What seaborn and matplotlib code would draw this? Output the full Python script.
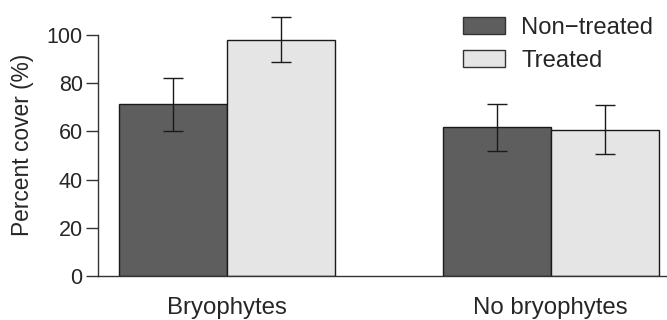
import matplotlib
matplotlib.use("Agg")
import matplotlib.pyplot as plt
import seaborn as sns
import pandas as pd
import numpy as np

groups = ["Bryophytes", "Bryophytes", "No bryophytes", "No bryophytes"]
treatments = ["Non\u2212treated", "Treated", "Non\u2212treated", "Treated"]
cover = [71.4, 97.9, 61.7, 60.7]
err_low = [60.2, 88.6, 51.9, 50.5]
err_high = [82.3, 107.5, 71.5, 71.0]
yticks = [0, 20, 40, 60, 80, 100]

df = pd.DataFrame({"group": groups, "treatment": treatments, "cover": cover,
                   "lo": err_low, "hi": err_high})

sns.set_theme(style="ticks")
plt.rcParams["font.family"] = ["Liberation Sans", "DejaVu Sans"]

W, H = 667, 320
fig = plt.figure(figsize=(W / 100, H / 100), dpi=100)
ax = fig.add_axes([98 / W, 44 / H, (W - 98) / W, 270 / H])

palette = {"Non\u2212treated": "#5e5e5e", "Treated": "#e5e5e5"}
sns.barplot(data=df, x="group", y="cover", hue="treatment", palette=palette,
            width=0.668, errorbar=None, edgecolor="#1a1a1a", linewidth=1.0,
            saturation=1, ax=ax)

# error bars at bar centres (from seaborn patches, ordered left to right)
bars = sorted([p for p in ax.patches if p.get_height() > 0], key=lambda p: p.get_x())[:4]
for p, lo, hi in zip(bars, err_low, err_high):
    xc = p.get_x() + p.get_width() / 2
    ax.errorbar([xc], [(lo + hi) / 2], yerr=[[(hi - lo) / 2]], fmt="none",
                ecolor="#1a1a1a", elinewidth=1.0, capsize=7.5, capthick=1.0,
                clip_on=False)

ax.set_xlim(-0.399, 1.360)
ax.set_ylim(0, 112)
ax.set_yticks(yticks)
ax.spines["left"].set_bounds(0, 100)
ax.spines["top"].set_visible(False)
ax.spines["right"].set_visible(False)
for s in ["left", "bottom"]:
    ax.spines[s].set_color("#333333")
    ax.spines[s].set_linewidth(1.0)
ax.tick_params(axis="y", length=9, width=1.0, color="#333333", labelsize=15.5, pad=2)
ax.tick_params(axis="x", length=0, labelsize=17.3, pad=15)
ax.set_xlabel("")
ax.set_ylabel("Percent cover (%)", fontsize=16.4)
ax.yaxis.set_label_coords(-0.1125, (276 - 144.5) / 270)

leg = ax.legend(loc="upper left", bbox_to_anchor=((446 - 98) / (W - 98), 1.0 + 6 / 270),
                frameon=False, fontsize=17.2, handlelength=1.75, handleheight=0.7,
                handletextpad=0.7, labelspacing=0.48, borderaxespad=0.3)
for h in leg.legend_handles:
    h.set_edgecolor("#333333")
    h.set_linewidth(1.0)

fig.savefig("out.png", dpi=100)
